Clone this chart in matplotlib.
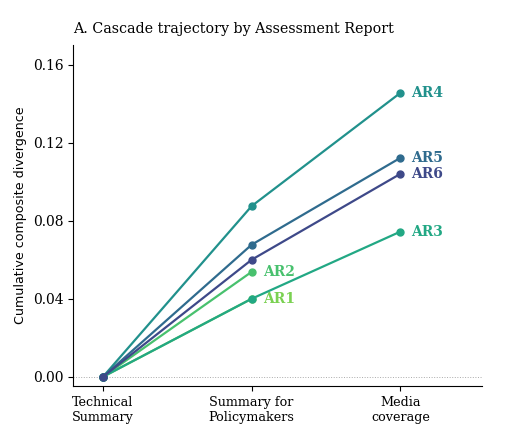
import matplotlib
matplotlib.use('Agg')
import matplotlib.pyplot as plt
import numpy as np

plt.rcParams['font.family'] = ['DejaVu Serif']

stages = ['Technical\nSummary', 'Summary for\nPolicymakers', 'Media\ncoverage']
reports = ['AR1', 'AR2', 'AR3', 'AR4', 'AR5', 'AR6']
# cumulative divergence per stage (None = not covered)
values = {
    'AR1': [0.0, 0.040, None],
    'AR2': [0.0, 0.0538, None],
    'AR3': [0.0, 0.040, 0.0744],
    'AR4': [0.0, 0.0875, 0.1455],
    'AR5': [0.0, 0.0677, 0.1122],
    'AR6': [0.0, 0.0600, 0.1040],
}
colors = {
    'AR1': '#7ad151', 'AR2': '#48c16e', 'AR3': '#22a884',
    'AR4': '#21918c', 'AR5': '#2f6b8e', 'AR6': '#3e4989',
}

fig = plt.figure(figsize=(5.23, 4.46), dpi=100)
ax = fig.add_axes([0.14, 0.135, 0.782, 0.764])

ax.axhline(0, color='#aaaaaa', lw=0.7, ls=':', zorder=0)

for r in reports:
    ys = [v for v in values[r] if v is not None]
    xs = np.arange(len(ys))
    ax.plot(xs, ys, color=colors[r], lw=1.6, marker='o', ms=5, zorder=3)
    ax.annotate(r, (xs[-1], ys[-1]), xytext=(8, 0), textcoords='offset points',
                va='center', ha='left', fontsize=10, fontweight='bold',
                color=colors[r])

ax.set_xticks(range(len(stages)))
ax.set_xticklabels(stages, fontsize=9.2)
ax.set_yticks([0, 0.04, 0.08, 0.12, 0.16])
ax.set_yticklabels(['0.00', '0.04', '0.08', '0.12', '0.16'], fontsize=10)
ax.set_xlim(-0.2, 2.55)
ax.set_ylim(-0.0046, 0.170)
ax.set_ylabel('Cumulative composite divergence', fontsize=9.1, family='DejaVu Sans')
ax.set_title('A. Cascade trajectory by Assessment Report', loc='left', fontsize=10.3, pad=9)
ax.spines['top'].set_visible(False)
ax.spines['right'].set_visible(False)

fig.savefig('out.png', dpi=100)
